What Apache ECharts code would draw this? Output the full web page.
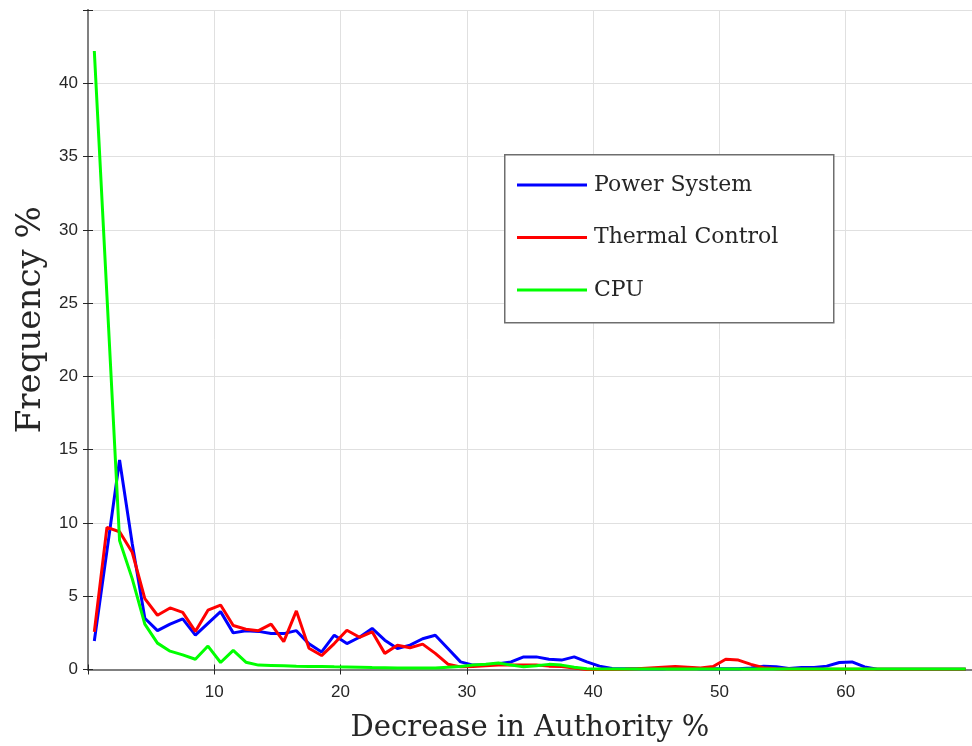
<!DOCTYPE html>
<html>
<head>
<meta charset="utf-8">
<script src="https://cdn.jsdelivr.net/npm/echarts@6/dist/echarts.min.js"></script>
<style>
  html, body { margin: 0; padding: 0; background: #ffffff; }
  #chart { width: 972px; height: 746px; }
</style>
</head>
<body>
<div id="chart"></div>
<script>
// Bin centres of the authority-decrease histogram (%)
const binCenters = [
  0.5, 1.5, 2.5, 3.5, 4.5, 5.5, 6.5, 7.5, 8.5, 9.5,
  10.5, 11.5, 12.5, 13.5, 14.5, 15.5, 16.5, 17.5, 18.5, 19.5,
  20.5, 21.5, 22.5, 23.5, 24.5, 25.5, 26.5, 27.5, 28.5, 29.5,
  30.5, 31.5, 32.5, 33.5, 34.5, 35.5, 36.5, 37.5, 38.5, 39.5,
  40.5, 41.5, 42.5, 43.5, 44.5, 45.5, 46.5, 47.5, 48.5, 49.5,
  50.5, 51.5, 52.5, 53.5, 54.5, 55.5, 56.5, 57.5, 58.5, 59.5,
  60.5, 61.5, 62.5, 63.5, 64.5, 65.5, 66.5, 67.5, 68.5, 69.5
];

// Frequency (%) per bin for each subsystem
const powerSystem = [
  1.95, 8.1, 14.3, 8.6, 3.5, 2.65, 3.1, 3.45, 2.35, 3.15,
  3.95, 2.5, 2.65, 2.6, 2.45, 2.45, 2.65, 1.75, 1.2, 2.34,
  1.77, 2.2, 2.8, 2.0, 1.43, 1.66, 2.1, 2.34, 1.43, 0.52,
  0.3, 0.3, 0.4, 0.52, 0.86, 0.86, 0.7, 0.64, 0.86, 0.52,
  0.23, 0.07, 0.05, 0.05, 0.05, 0.05, 0.1, 0.1, 0.05, 0.05,
  0.05, 0.05, 0.1, 0.23, 0.18, 0.07, 0.14, 0.14, 0.23, 0.48,
  0.52, 0.18, 0.02, 0.01, 0.01, 0.01, 0.01, 0.01, 0.01, 0.01
];
const thermalControl = [
  2.57, 9.7, 9.4, 8.0, 4.84, 3.7, 4.2, 3.9, 2.6, 4.05,
  4.4, 3.0, 2.75, 2.65, 3.1, 1.9, 4.0, 1.45, 0.95, 1.77,
  2.68, 2.2, 2.57, 1.1, 1.66, 1.48, 1.73, 1.1, 0.36, 0.18,
  0.2, 0.25, 0.3, 0.3, 0.3, 0.3, 0.23, 0.2, 0.1, 0.0,
  0.0, 0.0, 0.02, 0.05, 0.1, 0.15, 0.2, 0.15, 0.1, 0.2,
  0.7, 0.64, 0.35, 0.12, 0.05, 0.02, 0.02, 0.02, 0.02, 0.02,
  0.02, 0.02, 0.02, 0.02, 0.02, 0.02, 0.02, 0.02, 0.02, 0.02
];
const cpu = [
  42.2, 25.5, 8.8, 6.2, 3.1, 1.8, 1.25, 1.0, 0.7, 1.6,
  0.48, 1.3, 0.5, 0.3, 0.28, 0.25, 0.22, 0.2, 0.2, 0.18,
  0.17, 0.15, 0.13, 0.12, 0.1, 0.1, 0.1, 0.1, 0.15, 0.2,
  0.3, 0.36, 0.45, 0.3, 0.18, 0.25, 0.35, 0.3, 0.15, 0.05,
  0.03, 0.03, 0.03, 0.03, 0.03, 0.03, 0.03, 0.03, 0.03, 0.03,
  0.03, 0.03, 0.03, 0.03, 0.03, 0.03, 0.03, 0.03, 0.03, 0.03,
  0.03, 0.03, 0.03, 0.03, 0.03, 0.03, 0.03, 0.03, 0.03, 0.03
];

const seriesNames = ['Power System', 'Thermal Control', 'CPU'];
const seriesColors = ['#0000ff', '#ff0000', '#00ff00'];
const seriesValues = [powerSystem, thermalControl, cpu];

const xTickLabels = ['10', '20', '30', '40', '50', '60'];
const yTickLabels = ['0', '5', '10', '15', '20', '25', '30', '35', '40'];

const pair = (xs, ys) => xs.map((x, i) => [x, ys[i]]);

const chart = echarts.init(document.getElementById('chart'), null, { renderer: 'canvas' });

const tickFont = { fontFamily: 'Liberation Sans, Arial, sans-serif', fontSize: 17, color: '#262626' };
const titleFont = { fontFamily: 'DejaVu Serif, serif', fontSize: 29, color: '#262626' };
const frameLine = { show: true, lineStyle: { color: '#808080', width: 2 } };
const gridLine = { show: true, lineStyle: { color: '#e0e0e0', width: 1 } };
const innerTick = { show: true, inside: true, length: 5, lineStyle: { color: '#262626', width: 1 } };

chart.setOption({
  animation: false,
  backgroundColor: '#ffffff',
  grid: { left: 88, right: 0, top: 10, bottom: 76.5, containLabel: false, outerBoundsMode: 'none' },
  xAxis: [
    {
      type: 'value', min: 0, max: 70, interval: 10,
      name: 'Decrease in Authority %',
      nameLocation: 'middle', nameGap: 44,
      nameTextStyle: titleFont,
      axisLine: frameLine,
      axisTick: innerTick,
      axisLabel: Object.assign({
        margin: 14,
        formatter: v => xTickLabels.includes(String(v)) ? String(v) : ''
      }, tickFont),
      splitLine: gridLine
    },
    {
      type: 'value', min: 0, max: 70, interval: 10, position: 'top',
      axisLine: frameLine,
      axisTick: innerTick,
      axisLabel: { show: false },
      splitLine: { show: false }
    }
  ],
  yAxis: [
    {
      type: 'value', min: 0, max: 45, interval: 5,
      name: 'Frequency %',
      nameLocation: 'middle', nameGap: 38, nameRotate: 90,
      nameTextStyle: Object.assign({}, titleFont, { fontSize: 34, padding: [0, 0, 0, 40] }),
      axisLine: frameLine,
      axisTick: innerTick,
      axisLabel: Object.assign({
        margin: 10,
        formatter: v => yTickLabels.includes(String(v)) ? String(v) : ''
      }, tickFont),
      splitLine: gridLine
    },
    {
      type: 'value', min: 0, max: 45, interval: 5, position: 'right',
      axisLine: frameLine,
      axisTick: innerTick,
      axisLabel: { show: false },
      splitLine: { show: false }
    }
  ],
  legend: {
    data: seriesNames,
    orient: 'vertical',
    left: 504, top: 154,
    padding: [20, 20, 20, 13],
    itemGap: 30.5,
    itemWidth: 70, itemHeight: 3,
    icon: 'rect',
    z: 10,
    textStyle: { fontFamily: 'DejaVu Serif, serif', fontSize: 22, color: '#262626', lineHeight: 22, padding: [0, 0, 0, 2] }
  },
  graphic: [
    {
      type: 'rect', left: 504, top: 154, z: 9,
      shape: { width: 329, height: 168 },
      style: { fill: '#ffffff', stroke: '#6e6e6e', lineWidth: 1.5 }
    }
  ],
  series: seriesNames.map((name, k) => ({
    name: name,
    type: 'line',
    data: pair(binCenters, seriesValues[k]),
    showSymbol: false,
    symbol: 'none',
    clip: true,
    itemStyle: { color: seriesColors[k] },
    lineStyle: { color: seriesColors[k], width: 3 },
    z: 2 + k
  }))
});
</script>
</body>
</html>
